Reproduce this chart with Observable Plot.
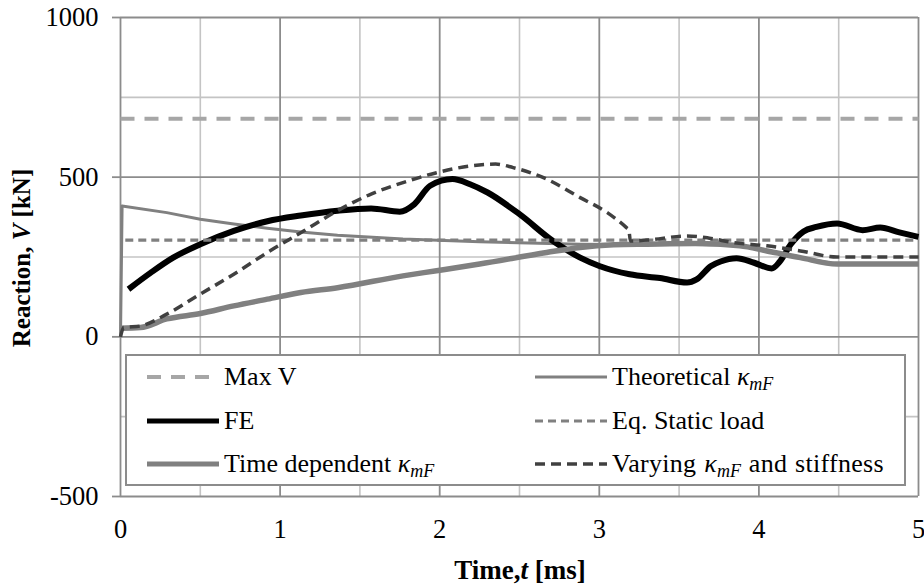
<!DOCTYPE html>
<html><head><meta charset="utf-8">
<script src="https://cdn.jsdelivr.net/npm/d3@7"></script>
<script src="https://cdn.jsdelivr.net/npm/@observablehq/plot@0.6"></script>
<style>
body{margin:0;background:#fff;}
#wrap{position:relative;width:924px;height:585px;font-family:"Liberation Serif","Times New Roman",serif;color:#000;}
#wrap > svg{position:absolute;left:0;top:0;}
.ylab{position:absolute;left:22px;top:258px;transform:translate(-50%,-50%) rotate(-90deg);font-weight:bold;font-size:25px;white-space:nowrap;}
.xlab{position:absolute;left:520px;top:570px;transform:translate(-50%,-50%);font-weight:bold;font-size:27px;white-space:nowrap;}
#legend{position:absolute;left:125px;top:354px;width:781px;height:132px;box-sizing:border-box;border:2px solid #8c8c8c;background:#fff;}
#legend .item{position:absolute;height:30px;display:flex;align-items:center;font-size:26px;white-space:nowrap;}
#legend .item svg{position:static;margin-right:5px;flex:none;}
#legend .wide{letter-spacing:0.3px;word-spacing:1px;}
sub{font-size:18px;vertical-align:-5px;line-height:0;letter-spacing:0;}
</style></head><body>
<div id="wrap"></div>
<script>
// ---- axis ticks ----
const xTicks = [0, 1, 2, 3, 4, 5];
const xMinor = [0.5, 1.5, 2.5, 3.5, 4.5];
const yTicks = [-500, 0, 500, 1000];
const yMinor = [-250, 250, 750];

// ---- series (time in ms, reaction in kN) ----
const maxVT = [0, 5];
const maxVV = [683, 683];

const eqStaticT = [0.03, 5];
const eqStaticV = [303, 303];

const theoT = [0, 0.01, 0.29, 0.5, 0.71, 0.92, 1.13, 1.36, 1.77, 2.25, 2.88, 3.3, 3.6, 3.88, 4.05, 4.26, 4.49, 5];
const theoV = [0, 410, 389, 368, 353, 340, 328, 318, 306, 298, 290, 288, 290, 285, 269, 248, 228, 228];

const feT = [0.05, 0.19, 0.33, 0.5, 0.71, 0.92, 1.13, 1.36, 1.57, 1.75, 1.84, 1.94, 2.08, 2.19, 2.3, 2.5, 2.71, 2.88, 3.0, 3.19, 3.38, 3.55, 3.61, 3.7, 3.76, 3.86, 3.97, 4.08, 4.13, 4.2, 4.28, 4.36, 4.49, 4.65, 4.76, 4.88, 5.0];
const feV = [149, 201, 248, 290, 332, 362, 380, 395, 402, 392, 415, 473, 494, 478, 452, 384, 300, 248, 222, 196, 184, 170, 180, 222, 236, 246, 232, 214, 235, 290, 330, 344, 355, 334, 342, 327, 313];

const timeDepT = [0, 0.125, 0.29, 0.5, 0.71, 0.92, 1.13, 1.36, 1.77, 1.98, 2.25, 2.67, 2.88, 3.09, 3.3, 3.6, 3.88, 4.05, 4.26, 4.49, 5];
const timeDepV = [27, 29, 56, 73, 97, 118, 139, 154, 191, 207, 228, 264, 280, 288, 290, 292, 285, 269, 248, 228, 228];

const varyT = [0, 0.02, 0.125, 0.29, 0.5, 0.71, 0.92, 1.15, 1.36, 1.57, 1.77, 1.98, 2.19, 2.35, 2.46, 2.67, 2.88, 3.05, 3.17, 3.185, 3.195, 3.3, 3.55, 3.69, 3.84, 4.05, 4.26, 4.49, 5.0];
const varyV = [0, 29, 34, 71, 134, 196, 264, 332, 395, 447, 483, 514, 535, 541, 530, 494, 436, 389, 342, 335, 300, 303, 316, 309, 295, 285, 269, 250, 250];

const toRows = (t, v) => t.map((d, i) => ({t: d, v: v[i]}));

const series = [
  {name: "Max V", rows: toRows(maxVT, maxVV), stroke: "#a6a6a6", width: 4, dash: "14,10", curve: "linear"},
  {name: "Theoretical", rows: toRows(theoT, theoV), stroke: "#808080", width: 3, dash: null, curve: "linear"},
  {name: "FE", rows: toRows(feT, feV), stroke: "#000000", width: 6, dash: null, curve: "monotone-x"},
  {name: "Eq. Static load", rows: toRows(eqStaticT, eqStaticV), stroke: "#808080", width: 3.2, dash: "8,5", curve: "linear"},
  {name: "Time dependent", rows: toRows(timeDepT, timeDepV), stroke: "#808080", width: 5.5, dash: null, curve: "monotone-x"},
  {name: "Varying", rows: toRows(varyT, varyV), stroke: "#404040", width: 3.5, dash: "10,6", curve: "monotone-x"}
];

const fmt = d => String(d);

const chart = Plot.plot({
  width: 924,
  height: 585,
  marginLeft: 120,
  marginRight: 6,
  marginTop: 17,
  marginBottom: 89,
  style: {fontFamily: "'Liberation Serif','Times New Roman',serif", fontSize: "26.5px", background: "transparent", color: "#000", overflow: "visible"},
  x: {domain: [0, 5]},
  y: {domain: [-500, 1000]},
  marks: [
    Plot.ruleX(xMinor, {stroke: "#c4c4c4", strokeWidth: 1.6}),
    Plot.ruleY(yMinor, {stroke: "#c4c4c4", strokeWidth: 1.6}),
    Plot.ruleX(xTicks, {stroke: "#8c8c8c", strokeWidth: 1.8}),
    Plot.ruleY(yTicks, {stroke: "#8c8c8c", strokeWidth: 1.8}),
    Plot.axisY(yTicks, {anchor: "left", tickSize: 8, tickPadding: 14, stroke: "#8c8c8c", strokeWidth: 1.8, fontSize: 26.5, label: null, tickFormat: fmt}),
    Plot.axisX(xTicks, {anchor: "bottom", tickSize: 0, tickPadding: 23, fontSize: 26.5, label: null, tickFormat: fmt}),
    ...series.map(s => Plot.line(s.rows, {
      x: "t", y: "v", stroke: s.stroke, strokeWidth: s.width,
      strokeDasharray: s.dash ?? undefined, curve: s.curve,
      strokeLinecap: "butt", strokeLinejoin: "round"
    }))
  ]
});

const wrap = document.getElementById("wrap");
wrap.appendChild(chart);

const yl = document.createElement("div");
yl.className = "ylab";
yl.innerHTML = "Reaction, <i>V</i> [kN]";
wrap.appendChild(yl);
const xl = document.createElement("div");
xl.className = "xlab";
xl.innerHTML = "Time,<i>t</i> [ms]";
wrap.appendChild(xl);

// ---- legend ----
const kappa = "<i>κ</i><sub><i>mF</i></sub>";
const legendItems = [
  {label: "Max V", s: series[0], col: 0, row: 0},
  {label: "Theoretical " + kappa, s: series[1], col: 1, row: 0},
  {label: "FE", s: series[2], col: 0, row: 1},
  {label: "Eq. Static load", s: series[3], col: 1, row: 1},
  {label: "Time dependent " + kappa, s: series[4], col: 0, row: 2},
  {label: "Varying " + kappa + " and stiffness", s: series[5], col: 1, row: 2, wide: true}
];
const leg = document.createElement("div");
leg.id = "legend";
const colX = [20, 408];
const rowY = [21, 65, 108];
for (const it of legendItems) {
  const d = document.createElement("div");
  d.className = "item" + (it.wide ? " wide" : "");
  d.style.left = colX[it.col] + "px";
  d.style.top = (rowY[it.row] - 15) + "px";
  const dash = it.s.dash ? `stroke-dasharray="${it.s.dash}"` : "";
  const w = Math.min(it.s.width, 5);
  d.innerHTML = `<svg width="72" height="12"><line x1="0" y1="6" x2="72" y2="6" stroke="${it.s.stroke}" stroke-width="${w}" ${dash}/></svg><span>${it.label}</span>`;
  leg.appendChild(d);
}
wrap.appendChild(leg);
</script>
</body></html>
